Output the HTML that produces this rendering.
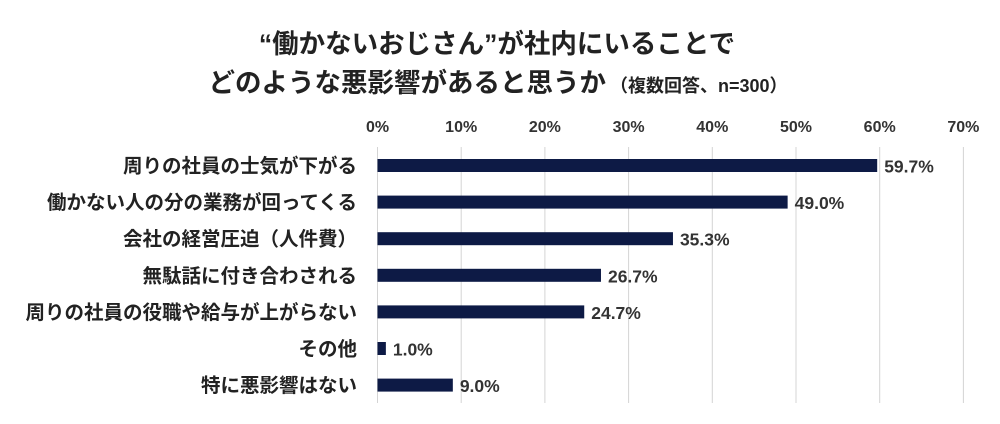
<!DOCTYPE html>
<html><head><meta charset="utf-8"><style>
body{margin:0;background:#fff;}
svg{display:block;font-family:"Liberation Sans","Noto Sans CJK JP",sans-serif;}
</style></head><body>
<svg id="chart" width="1000" height="424">
<text x="497" y="53" text-anchor="middle" font-size="26.5" font-weight="bold" fill="#222">“働かないおじさん”が社内にいることで</text>
<text x="498" y="92" text-anchor="middle" font-size="26.5" font-weight="bold" fill="#222">どのような悪影響があると思うか<tspan font-size="18" dx="4">（複数回答、n=300）</tspan></text>
<g id="grid"></g><g id="bars"></g>
</svg>
<script>
const categories=["周りの社員の士気が下がる","働かない人の分の業務が回ってくる","会社の経営圧迫（人件費）","無駄話に付き合わされる","周りの社員の役職や給与が上がらない","その他","特に悪影響はない"];
const values=[59.7,49.0,35.3,26.7,24.7,1.0,9.0];
const ticks=[0,10,20,30,40,50,60,70];
const ns="http://www.w3.org/2000/svg";
const x=v=>377.5+v*8.37;
const y=i=>165.5+i*36.6;
const grid=document.getElementById('grid'),bars=document.getElementById('bars');
function mk(tag,attrs,parent,txt){const e=document.createElementNS(ns,tag);for(const k in attrs)e.setAttribute(k,attrs[k]);if(txt!=null)e.textContent=txt;parent.appendChild(e);return e;}
ticks.forEach(t=>{
  const l=mk('line',{x1:x(t),x2:x(t),y1:147,y2:403,stroke:'#d4d4d4','stroke-width':1},grid);
  
  
  const tx=mk('text',{x:x(t),y:132,'text-anchor':'middle','font-size':16,'font-weight':'bold',fill:'#333'},grid,t+'%');
  
  
});
categories.forEach((c,i)=>{
  const lb=mk('text',{x:357,y:y(i)+7,'text-anchor':'end','font-size':19.5,'font-weight':'bold',fill:'#222'},bars,c);
  
  
  const r=mk('rect',{x:x(0),y:y(i)-6.5,width:x(values[i])-x(0),height:13,fill:'#0d1a45'},bars);
  
  
  const v=mk('text',{x:x(values[i])+7,y:y(i)+7,'font-size':17.5,'font-weight':'bold',fill:'#333'},bars,values[i].toFixed(1)+'%');
  
  
});
</script>
</body></html>
